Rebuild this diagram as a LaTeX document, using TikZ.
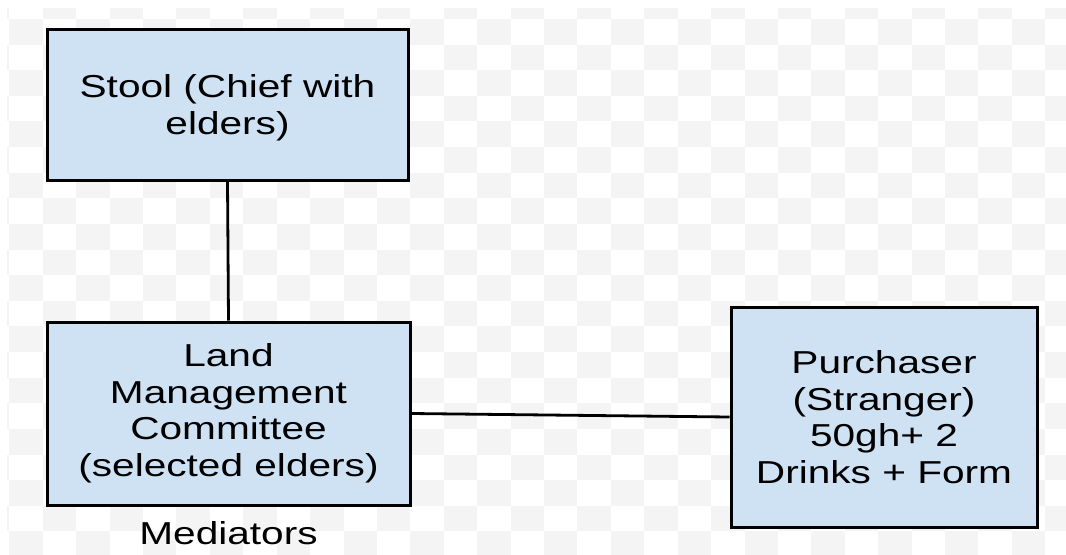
\documentclass[tikz,border=0pt]{standalone}
\usepackage{fontspec}
\newfontfamily\diagfont[FakeStretch=1.28]{Liberation Sans}
\definecolor{boxblue}{HTML}{CFE2F3}
\definecolor{checkgray}{HTML}{F4F4F4}
\begin{document}
\begin{tikzpicture}[x=0.75pt,y=-0.75pt,
  box/.style={draw=black, line width=2.25pt, fill=boxblue, align=center,
    inner sep=0pt, font=\diagfont\fontsize{23.8pt}{27.4pt}\selectfont},
  link/.style={draw=black, line width=2.1pt},
  caption/.style={inner sep=0pt, font=\diagfont\fontsize{23.8pt}{27.4pt}\selectfont}]
\useasboundingbox (0,0) rectangle (1066,554);
\fill[white] (0,0) rectangle (1066,554);
% checkered backdrop
\begin{scope}
  \clip (7,8) rectangle (1066,554);
  \foreach \i in {-1,...,21}{
    \foreach \j in {-1,...,31}{
      \pgfmathtruncatemacro\chk{mod(\i+\j+4,2)}
      \ifnum\chk=0
        \fill[checkgray] ({9.3+\j*33.42},{19+\i*25.62}) rectangle +(33.42,25.62);
      \fi
    }}
\end{scope}
% boxes
\node[box, text depth=0pt, minimum width=270.75pt, minimum height=113.25pt] (stool) at (227.5,104.5)
  {Stool (Chief with\\elders)};
\node[box, minimum width=272.25pt, minimum height=137.25pt] (land) at (228.5,413.5)
  {Land\\Management\\Committee\\(selected elders)};
\node[box, minimum width=229.5pt, minimum height=165pt] (buyer) at (884,417)
  {Purchaser\\(Stranger)\\50gh+ 2\\Drinks + Form};
\node[caption, anchor=base] (med) at ([yshift=-28.5pt]land.south) {Mediators};
% connectors
\draw[link] (stool.south) -- (land.north);
\draw[link] (land.east) -- (buyer.west);
\end{tikzpicture}
\end{document}
